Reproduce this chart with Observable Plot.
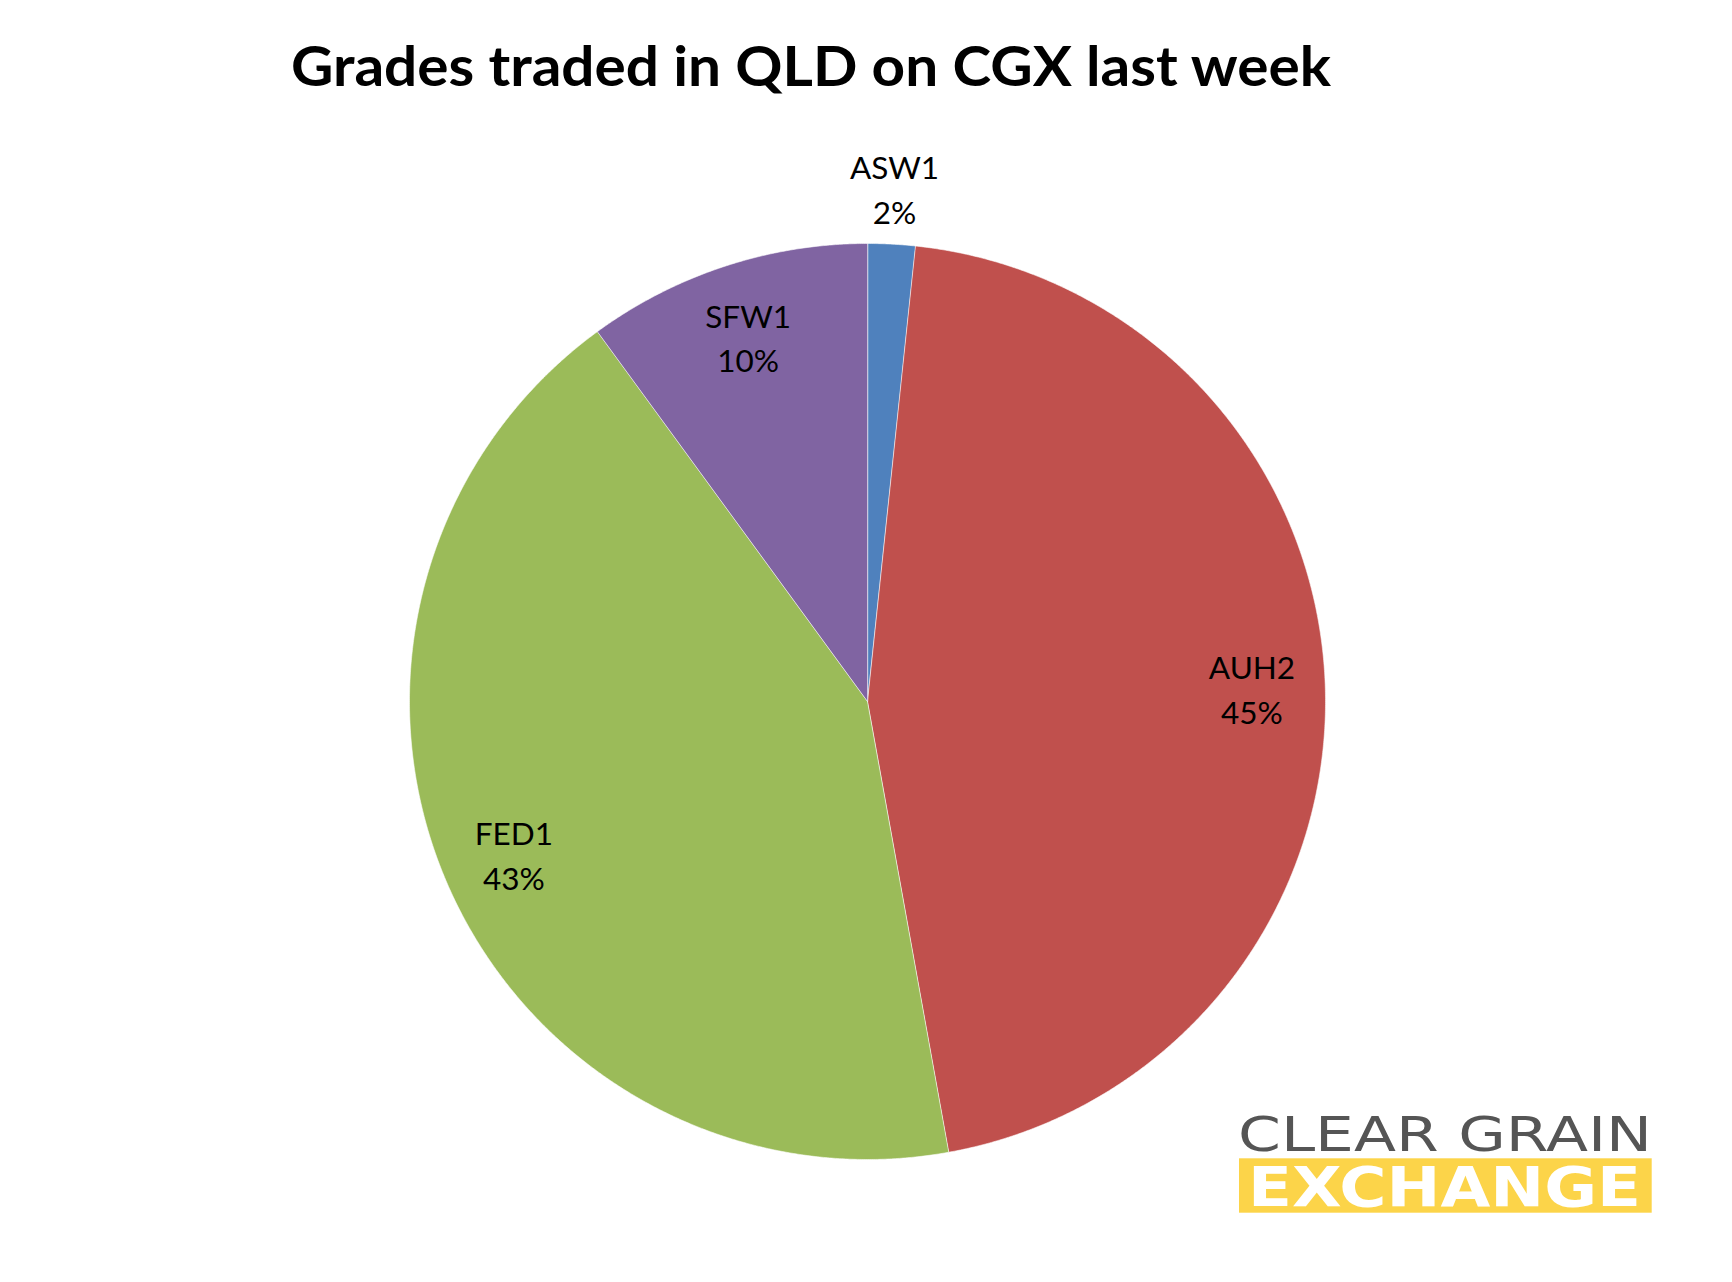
<!DOCTYPE html>
<html>
<head>
<meta charset="utf-8">
<script src="https://cdn.jsdelivr.net/npm/d3@7"></script>
<script src="https://cdn.jsdelivr.net/npm/@observablehq/plot@0.6"></script>
<style>
  html, body { margin: 0; padding: 0; background: #fff; }
  #wrap { position: relative; width: 1732px; height: 1282px; overflow: hidden; background: #fff; }
  #title { position: absolute; left: 0; top: 32px; width: 1622px; text-align: center; white-space: nowrap; }
  #title span { display: inline-block; font-family: Lato, sans-serif; font-weight: 700; font-size: 55px; line-height: 66px; color: #000; transform-origin: 50% 50%; }
  #chart { position: absolute; left: 0; top: 120px; }
  #logo { position: absolute; left: 1230px; top: 1100px; }
</style>
</head>
<body>
<div id="wrap">
  <div id="title"><span id="titleText">Grades traded in QLD on CGX last week</span></div>
  <div id="chart"></div>
  <svg id="logo" width="440" height="125" viewBox="0 0 440 125">
    <text x="8" y="50.7" textLength="414" lengthAdjust="spacingAndGlyphs" font-family="DejaVu Sans" font-size="48" fill="#555555">CLEAR GRAIN</text>
    <rect x="9" y="58.3" width="412.7" height="54.4" fill="#FCD449"></rect>
    <text x="18" y="106" textLength="393" lengthAdjust="spacingAndGlyphs" font-family="DejaVu Sans" font-weight="bold" font-size="55" fill="#ffffff">EXCHANGE</text>
  </svg>
</div>
<script>
// ---- data ----
const grades = ["ASW1", "AUH2", "FED1", "SFW1"];
const shares = [1.67, 45.49, 42.80, 10.04];   // percent of volume traded
const colors = ["#4F81BD", "#C0504D", "#9BBB59", "#8064A2"];

// ---- build table ----
const data = grades.map((g, i) => ({grade: g, share: shares[i]}));
const arcs = d3.pie().sort(null).value(d => d.share).startAngle(0).endAngle(2 * Math.PI)(data);

const pt = (a, r) => [r * Math.sin(a), -r * Math.cos(a)]; // clockwise from 12 o'clock, y down

const slices = arcs.map(a => {
  const n = Math.max(2, Math.ceil((a.endAngle - a.startAngle) / (Math.PI / 720)));
  const ring = [[0, 0]];
  for (let k = 0; k <= n; k++) ring.push(pt(a.startAngle + (a.endAngle - a.startAngle) * k / n, 1));
  ring.push([0, 0]);
  return {type: "Feature", properties: {grade: a.data.grade}, geometry: {type: "Polygon", coordinates: [ring]}};
});

const circleRing = d3.range(0, 721).map(k => pt(k / 720 * 2 * Math.PI, 1));
const domain = {type: "Feature", geometry: {type: "Polygon", coordinates: [circleRing]}};

const labels = arcs.map(a => {
  const mid = (a.startAngle + a.endAngle) / 2;
  const r = a.data.share < 5 ? 1.125 : 0.84;
  const [x, y] = pt(mid, r);
  return {x, y, label: `${a.data.grade}\n${Math.round(a.data.share)}%`};
});

const W = 1732, H = 1162, cx = 867, cy = 581, R = 458;

const chart = Plot.plot({
  width: W,
  height: H,
  marginLeft: cx - R,
  marginRight: W - cx - R,
  marginTop: cy - R,
  marginBottom: H - cy - R,
  projection: {type: "identity", domain, clip: false},
  color: {domain: grades, range: colors},
  style: {fontFamily: "Lato, sans-serif", background: "transparent"},
  marks: [
    Plot.geo(slices, {fill: d => d.properties.grade, stroke: "white", strokeWidth: 0.8, strokeOpacity: 0.7}),
    Plot.text(labels, {x: "x", y: "y", text: "label", fontSize: 31.5, lineHeight: 1.42, fill: "#000", fontFamily: "Lato, sans-serif"})
  ]
});
document.getElementById("chart").appendChild(chart);

// fit title width to reference (about 1040px wide)
function fitTitle() {
  const s = document.getElementById("titleText");
  s.style.transform = "none";
  const w = s.getBoundingClientRect().width;
  if (w > 0) s.style.transform = `scaleX(${1040 / w})`;
}
fitTitle();
if (document.fonts && document.fonts.ready) document.fonts.ready.then(fitTitle);
</script>
</body>
</html>
